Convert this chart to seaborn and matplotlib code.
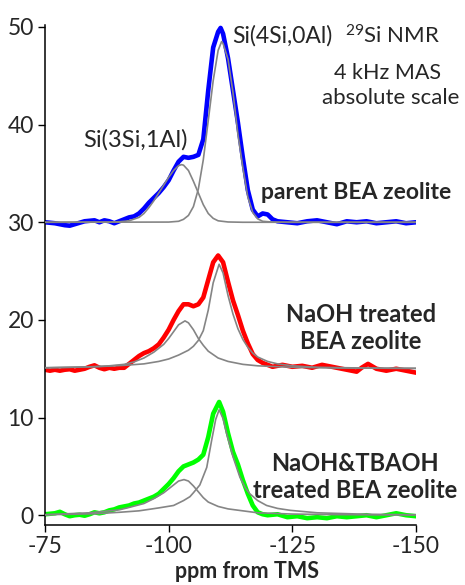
import numpy as np
import pandas as pd
import matplotlib
matplotlib.use('Agg')
import matplotlib.pyplot as plt
import seaborn as sns

# offsets of the three stacked spectra
offsets = [30, 15, 0]
colors = ['#0000ff', '#ff0000', '#00ff00']

# parent BEA zeolite - measured
ppm_parent = [-75, -77, -79, -80, -81, -83, -85, -86, -87, -88, -89, -90, -91, -92, -93, -94,
              -95, -96, -97, -98, -99, -100, -101, -102, -103, -104, -105, -106, -107, -108,
              -109, -110, -110.5, -111, -112, -113, -114, -115, -116, -117, -118, -119, -120,
              -121, -122, -124, -126, -128, -130, -132, -134, -136, -138, -140, -142, -144,
              -146, -148, -150]
int_parent = [0.0, -0.1, -0.3, -0.35, -0.2, 0.1, 0.2, 0.0, 0.2, 0.1, -0.1, 0.1, 0.3, 0.5, 0.6, 0.9,
              1.4, 2.0, 2.5, 3.0, 3.6, 4.3, 5.3, 6.2, 6.7, 6.6, 6.7, 6.9, 8.5, 13.5,
              17.9, 19.5, 19.9, 19.3, 16.8, 13.5, 10.2, 6.6, 3.3, 1.3, 0.6, 0.9, 0.8,
              0.3, 0.1, 0.0, -0.1, 0.1, 0.2, 0.0, -0.2, 0.1, 0.0, 0.1, -0.1, 0.0,
              0.1, -0.1, 0.0]
# parent fit components
ppm_parent_q3 = [-75, -88, -90, -92, -94, -95, -96, -97, -98, -99, -100, -101, -102, -102.6, -103,
                 -104, -105, -106, -107, -108, -109, -110, -112, -115, -150]
fit_parent_q3 = [0, 0.02, 0.05, 0.15, 0.5, 0.9, 1.5, 2.2, 3.0, 3.8, 4.6, 5.3, 5.8, 5.9, 5.85,
                 5.3, 4.2, 3.0, 1.8, 0.9, 0.4, 0.15, 0.03, 0, 0]
ppm_parent_q4 = [-75, -100, -102, -103, -104, -105, -106, -107, -108, -109, -110, -110.7, -111,
                 -112, -113, -114, -115, -116, -117, -118, -119, -121, -125, -150]
fit_parent_q4 = [0, 0.02, 0.1, 0.3, 0.7, 1.6, 3.4, 6.4, 10.4, 14.5, 17.6, 18.5, 18.3,
                 16.7, 13.3, 9.0, 5.6, 2.6, 1.0, 0.35, 0.1, 0.02, 0, 0]

# NaOH treated - measured
ppm_naoh = [-75, -76, -77, -78, -79, -80, -81, -82, -83, -84, -85, -86, -87, -88, -89, -90, -91,
            -92, -93, -94, -95, -96, -97, -98, -99, -100, -101, -102, -103, -104, -105, -106,
            -107, -108, -109, -110, -111, -112, -113, -114, -115, -116, -117, -118, -119, -120,
            -121, -123, -125, -127, -129, -131, -133, -135, -137, -138, -139, -140.3, -142,
            -144, -146, -148, -150]
int_naoh = [-0.1, -0.2, -0.1, -0.2, -0.1, -0.05, -0.2, -0.1, 0.0, 0.2, 0.35, 0.1, -0.05, 0.1, 0.0,
            0.1, 0.1, 0.5, 0.9, 1.3, 1.6, 1.8, 2.1, 2.5, 3.2, 4.0, 5.0, 5.9, 6.6, 6.6, 6.4, 6.6,
            7.3, 9.1, 10.9, 11.6, 10.9, 8.9, 7.0, 5.5, 3.9, 2.6, 1.5, 0.9, 0.6, 0.4,
            0.2, 0.4, 0.2, 0.3, 0.1, 0.4, 0.2, 0.0, -0.2, -0.3, 0.1, 0.5, 0.0,
            -0.2, 0.0, -0.2, -0.4]
ppm_naoh_q3 = [-75, -80, -85, -88, -91, -93, -95, -97, -99, -100, -101, -102, -103.3, -104, -105,
               -106, -107, -108, -110, -112, -115, -118, -125, -135, -150]
fit_naoh_q3 = [0.1, 0.15, 0.22, 0.3, 0.45, 0.7, 1.1, 1.7, 2.5, 3.1, 3.8, 4.5, 4.9, 4.7, 4.0,
               3.1, 2.4, 1.8, 1.1, 0.75, 0.45, 0.3, 0.15, 0.07, 0.04]
ppm_naoh_q4 = [-75, -85, -91, -95, -98, -100, -102, -104, -105, -106, -107, -108, -109, -110.2,
               -111, -112, -113, -114, -115, -116, -117, -118, -120, -122, -125, -130, -140, -150]
fit_naoh_q4 = [0.1, 0.2, 0.35, 0.5, 0.75, 1.0, 1.4, 1.9, 2.3, 2.9, 3.9, 6.0, 8.8, 10.7,
               9.8, 7.5, 5.6, 4.1, 3.0, 2.2, 1.6, 1.2, 0.75, 0.5, 0.3, 0.15, 0.07, 0.04]

# NaOH&TBAOH treated - measured
ppm_tba = [-75, -76, -77, -78, -79, -80, -81, -82, -83, -84, -85, -86, -87, -88, -89, -90, -91,
           -92, -93, -94, -95, -96, -97, -98, -99, -100, -101, -102, -103, -104, -105, -106,
           -107, -108, -109, -110.2, -111, -112, -113, -114, -115, -116, -117, -118, -119,
           -120, -122, -124, -126, -128, -130, -132, -134, -136, -138, -140, -142, -144,
           -146, -148, -150]
int_tba = [0.1, 0.15, 0.2, 0.35, 0.1, -0.1, 0.0, 0.05, -0.05, 0.1, 0.3, 0.2, 0.3, 0.5, 0.6, 0.8,
           0.9, 1.0, 1.2, 1.3, 1.5, 1.7, 1.9, 2.2, 2.7, 3.2, 3.8, 4.5, 5.0, 5.2, 5.4, 5.7,
           6.2, 8.0, 10.4, 11.6, 10.6, 8.4, 6.5, 5.2, 3.6, 2.2, 1.0, 0.3, 0.1,
           0.0, 0.1, -0.2, -0.1, -0.3, -0.2, -0.3, -0.1, -0.2, -0.1, 0.0, -0.2, 0.0,
           0.2, 0.0, -0.1]
ppm_tba_q3 = [-75, -84, -90, -92, -95, -97, -99, -100, -101, -102, -103.1, -104, -105, -106, -107,
              -108, -110, -112, -115, -118, -125, -135, -150]
fit_tba_q3 = [0.05, 0.25, 0.55, 0.8, 1.2, 1.7, 2.3, 2.7, 3.1, 3.5, 3.65, 3.5, 3.0, 2.4, 1.8,
              1.35, 0.9, 0.65, 0.45, 0.25, 0.12, 0.06, 0.03]
ppm_tba_q4 = [-75, -85, -90, -94, -98, -101, -103, -104.3, -105, -106.3, -107.7, -108.7, -109.5,
              -110.2, -111, -111.7, -113, -114.4, -115.5, -116.4, -118, -119.8, -122, -124.6,
              -130, -140, -150]
fit_tba_q4 = [0.05, 0.15, 0.3, 0.45, 0.75, 1.0, 1.5, 1.9, 2.3, 3.1, 4.9, 7.7, 9.8,
              10.8, 9.9, 8.4, 6.0, 3.9, 2.8, 2.2, 1.5, 1.0, 0.7, 0.5,
              0.25, 0.1, 0.05]

spectra = [(ppm_parent, int_parent), (ppm_naoh, int_naoh), (ppm_tba, int_tba)]
fits = [[(ppm_parent_q3, fit_parent_q3), (ppm_parent_q4, fit_parent_q4)],
        [(ppm_naoh_q3, fit_naoh_q3), (ppm_naoh_q4, fit_naoh_q4)],
        [(ppm_tba_q3, fit_tba_q3), (ppm_tba_q4, fit_tba_q4)]]

sns.set_style('ticks')
plt.rcParams['font.family'] = ['Lato', 'DejaVu Sans']
plt.rcParams['axes.unicode_minus'] = False

fig = plt.figure(figsize=(4.65, 5.85), dpi=100)
ax = fig.add_axes([45 / 465, 60 / 585, 371 / 465, 500 / 585])

# measured spectra (thick), fitted components (thin grey) on top
for (x, y), off, c in zip(spectra, offsets, colors):
    sns.lineplot(x=x, y=np.array(y) + off, ax=ax, color=c, lw=3.3, estimator=None, zorder=2)
for comps, off in zip(fits, offsets):
    for x, y in comps:
        sns.lineplot(x=x, y=np.array(y) + off, ax=ax, color='#858585', lw=1.2,
                     estimator=None, zorder=3)

ax.set_xlim(-75, -150)
ax.set_ylim(-1, 50.2)
ax.set_xticks([-75, -100, -125, -150])
ax.set_yticks([0, 10, 20, 30, 40, 50])
ax.tick_params(length=5, width=1, color='black', pad=3, labelsize=16.5)
sns.despine(ax=ax)
for s in ['left', 'bottom']:
    ax.spines[s].set_linewidth(1.1)
    ax.spines[s].set_color('black')

ax.set_xlabel('ppm from TMS', fontsize=15.5, fontweight='bold')
ax.xaxis.set_label_coords(0.544, -0.072)
ax.set_ylabel('')

ax.text(-112.8, 49.1, 'Si(4Si,0Al)', fontsize=16.5, ha='left', va='center')
ax.text(-93.2, 38.4, 'Si(3Si,1Al)', fontsize=17, ha='center', va='center')
ax.text(-145.2, 49.1, r'$\mathregular{^{29}}$Si NMR', fontsize=16, ha='center', va='center')
ax.text(-144.3, 45.3, '4 kHz MAS', fontsize=15.5, ha='center', va='center')
ax.text(-144.9, 42.7, 'absolute scale', fontsize=16, ha='center', va='center')
ax.text(-137.9, 33.0, 'parent BEA zeolite', fontsize=16.5, fontweight='bold',
        ha='center', va='center')
ax.text(-138.9, 19.2, 'NaOH treated\nBEA zeolite', fontsize=17, fontweight='bold',
        ha='center', va='center', linespacing=1.2)
ax.text(-137.6, 3.9, 'NaOH&TBAOH\ntreated BEA zeolite', fontsize=17, fontweight='bold',
        ha='center', va='center', linespacing=1.2)

fig.savefig('out.png', dpi=100)
